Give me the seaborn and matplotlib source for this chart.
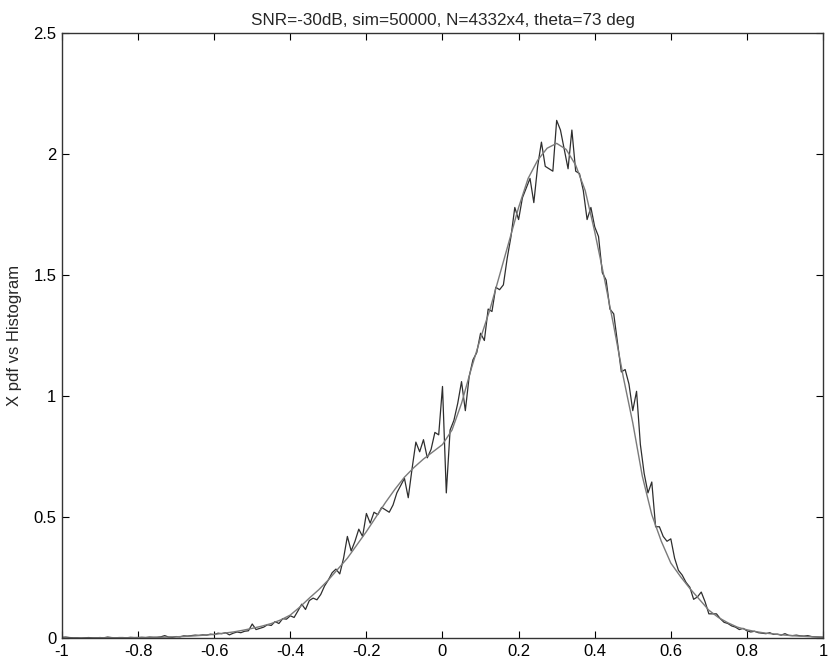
import numpy as np
import matplotlib
matplotlib.use("Agg")
import matplotlib.pyplot as plt
from matplotlib.ticker import FormatStrFormatter
import seaborn as sns

sns.set_style("ticks")
plt.rcParams['font.family'] = ['Liberation Sans', 'DejaVu Sans']

title = 'SNR=-30dB, sim=50000, N=4332x4, theta=73 deg'
ylabel = 'X pdf vs Histogram'

# theoretical pdf, read every 0.025
pdf_x = np.linspace(-1, 1, 81)
pdf_y = [0.000, 0.000, 0.000, 0.000, 0.001, 0.001, 0.001, 0.001, 0.002, 0.002,
         0.003, 0.004, 0.005, 0.007, 0.009, 0.012, 0.015, 0.020, 0.025, 0.032,
         0.040, 0.049, 0.060, 0.075, 0.095, 0.128, 0.165, 0.200, 0.240, 0.285,
         0.330, 0.385, 0.440, 0.500, 0.560, 0.615, 0.665, 0.705, 0.740, 0.770,
         0.800, 0.860, 0.970, 1.110, 1.240, 1.360, 1.500, 1.640, 1.780, 1.900,
         1.975, 2.025, 2.045, 2.020, 1.955, 1.850, 1.680, 1.490, 1.290, 1.080,
         0.890, 0.670, 0.510, 0.400, 0.310, 0.255, 0.205, 0.160, 0.115, 0.085,
         0.063, 0.045, 0.034, 0.026, 0.020, 0.016, 0.012, 0.009, 0.007, 0.005,
         0.004]

# simulated histogram, bin width 0.01
hist_x = np.linspace(-1, 1, 201)
hist_y = [0.003, 0.004, 0.002, 0.001, 0.001, 0.000, 0.001, 0.002, 0.001, 0.001,
          0.002, 0.001, 0.004, 0.002, 0.001, 0.002, 0.002, 0.001, 0.003, 0.002,
          0.002, 0.003, 0.002, 0.004, 0.003, 0.003, 0.005, 0.010, 0.004, 0.003,
          0.006, 0.005, 0.009, 0.008, 0.010, 0.012, 0.011, 0.013, 0.012, 0.016,
          0.014, 0.020, 0.018, 0.022, 0.013, 0.020, 0.025, 0.022, 0.028, 0.030,
          0.058, 0.035, 0.040, 0.045, 0.055, 0.052, 0.068, 0.060, 0.080, 0.078,
          0.092, 0.085, 0.112, 0.140, 0.118, 0.155, 0.165, 0.158, 0.180, 0.215,
          0.240, 0.270, 0.285, 0.265, 0.330, 0.420, 0.360, 0.400, 0.450, 0.420,
          0.515, 0.475, 0.520, 0.510, 0.540, 0.530, 0.520, 0.550, 0.600, 0.630,
          0.660, 0.580, 0.700, 0.810, 0.770, 0.820, 0.745, 0.780, 0.850, 0.840,
          1.040, 0.600, 0.860, 0.900, 0.970, 1.060, 0.940, 1.080, 1.150, 1.180,
          1.260, 1.230, 1.360, 1.350, 1.450, 1.440, 1.460, 1.570, 1.660, 1.780,
          1.730, 1.820, 1.860, 1.900, 1.800, 1.950, 2.050, 1.950, 1.940, 1.930,
          2.140, 2.100, 2.020, 1.940, 2.100, 1.930, 1.920, 1.850, 1.730, 1.780,
          1.700, 1.660, 1.510, 1.480, 1.360, 1.340, 1.220, 1.100, 1.110, 1.050,
          0.940, 1.020, 0.800, 0.680, 0.600, 0.645, 0.460, 0.460, 0.420, 0.400,
          0.410, 0.330, 0.280, 0.260, 0.230, 0.210, 0.160, 0.170, 0.190, 0.150,
          0.100, 0.100, 0.100, 0.080, 0.065, 0.060, 0.050, 0.045, 0.035, 0.040,
          0.030, 0.025, 0.028, 0.022, 0.020, 0.018, 0.022, 0.015, 0.016, 0.012,
          0.018, 0.011, 0.010, 0.012, 0.009, 0.008, 0.010, 0.006, 0.005, 0.004,
          0.003]

xticks = [-1, -0.8, -0.6, -0.4, -0.2, 0, 0.2, 0.4, 0.6, 0.8, 1]
yticks = [0, 0.5, 1, 1.5, 2, 2.5]

fig = plt.figure(figsize=(8.32, 6.66), dpi=100)
ax = fig.add_axes([0.0745, 0.042, 0.9147, 0.908])

sns.lineplot(x=hist_x, y=hist_y, ax=ax, color='#2e2e2e', linewidth=0.9)
sns.lineplot(x=pdf_x, y=pdf_y, ax=ax, color='#7a7a7a', linewidth=1.0)

ax.set_xlim(-1, 1)
ax.set_ylim(0, 2.5)
ax.set_xticks(xticks)
ax.set_yticks(yticks)
ax.xaxis.set_major_formatter(FormatStrFormatter('%g'))
ax.yaxis.set_major_formatter(FormatStrFormatter('%g'))
ax.tick_params(direction='in', length=5, width=0.8, labelsize=12,
               top=True, right=True, pad=4, colors='black')
for s in ax.spines.values():
    s.set_visible(True)
    s.set_color('#333333')
    s.set_linewidth(1.0)

ax.set_title(title, fontsize=12.3, pad=6)
ax.set_ylabel(ylabel, fontsize=12, labelpad=8)

fig.savefig('out.png', dpi=100)
